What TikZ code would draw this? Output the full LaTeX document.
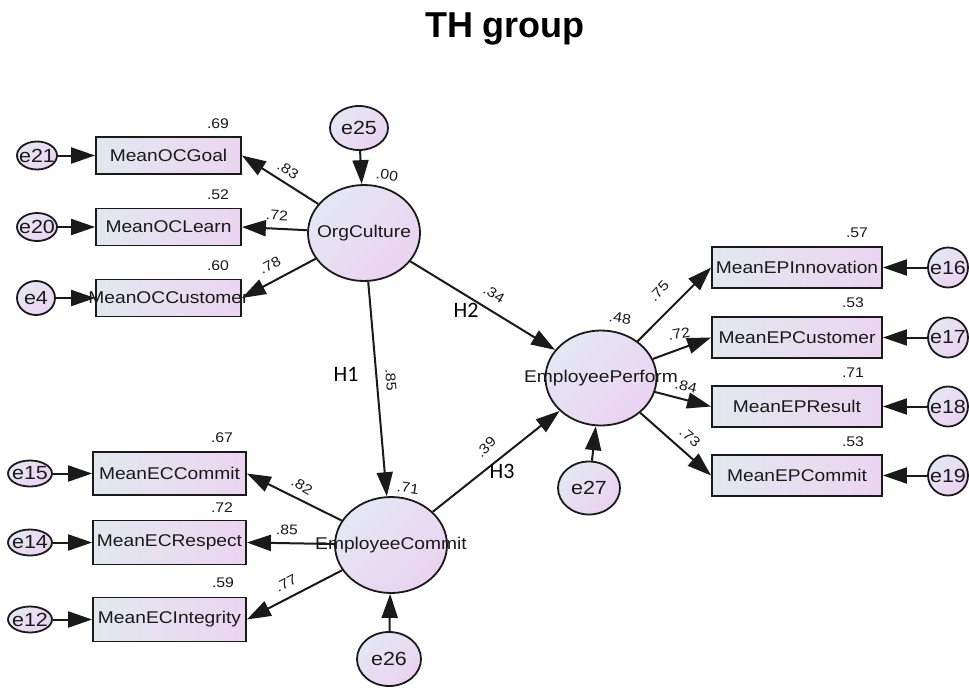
\documentclass[tikz,border=0pt]{standalone}
\usepackage{fontspec}
\setmainfont{Liberation Sans}
\newfontfamily\amosfont[FakeStretch=1.13]{Liberation Sans}
\newfontfamily\hypfont{Carlito}
\usetikzlibrary{arrows.meta,shapes.geometric}

\definecolor{boxL}{HTML}{E2E8EE}
\definecolor{boxR}{HTML}{EBD5F2}
\definecolor{ovalA}{HTML}{E4E7F3}
\definecolor{ovalB}{HTML}{EBD3F1}
\definecolor{ink}{HTML}{1A1A1A}

\tikzset{
  obs/.style={draw=ink, line width=1.8pt, rectangle, inner sep=0pt,
    left color=boxL, right color=boxR, text=ink,
    font=\amosfont\fontsize{17}{20}\selectfont},
  lat/.style={draw=ink, line width=1.8pt, ellipse, inner sep=0pt,
    top color=ovalA, bottom color=ovalB, shading angle=45, text=ink,
    font=\amosfont\fontsize{17}{20}\selectfont},
  err/.style={lat, font=\amosfont\fontsize{19}{22}\selectfont},
  reg/.style={draw=ink, line width=2pt, -{Triangle[length=24pt,width=16pt]}},
  est/.style={text=ink, inner sep=0pt, font=\amosfont\fontsize{14}{16}\selectfont},
  hyp/.style={text=black, inner sep=0pt, font=\hypfont\fontsize{22}{26}\selectfont},
}

\begin{document}
\begin{tikzpicture}[x=1pt,y=-1pt]
\useasboundingbox[fill=white] (0,0) rectangle (969,689);

% title
\node[anchor=base, inner sep=0pt, font=\bfseries\fontsize{36}{40}\selectfont] (title) at (505,37) {TH group};

% latent variables
\node[lat, minimum width=112pt, minimum height=96pt] (OC) at (364,233) {\makebox[0pt]{OrgCulture}};
\node[lat, minimum width=111pt, minimum height=95pt] (EP) at (601,378) {\makebox[0pt]{EmployeePerform}};
\node[lat, minimum width=112pt, minimum height=96pt] (EC) at (391,545) {\makebox[0pt]{EmployeeCommit}};

% disturbances of latent variables
\node[err, minimum width=58pt, minimum height=44pt] (e25) at (359,128) {e25};
\node[err, minimum width=62pt, minimum height=53pt] (e27) at (589,488) {e27};
\node[err, minimum width=64pt, minimum height=54pt] (e26) at (389,659) {e26};

% OrgCulture indicators
\node[obs, minimum width=145pt, minimum height=37pt] (ocGoal) at (168.5,155.5) {\makebox[0pt]{MeanOCGoal}};
\node[obs, minimum width=145pt, minimum height=37pt] (ocLearn) at (168.5,227) {\makebox[0pt]{MeanOCLearn}};
\node[obs, minimum width=145pt, minimum height=37pt] (ocCust) at (168.5,298) {\makebox[0pt]{MeanOCCustomer}};

% EmployeeCommit indicators
\node[obs, minimum width=153pt, minimum height=43pt] (ecCommit) at (169.5,473.5) {\makebox[0pt]{MeanECCommit}};
\node[obs, minimum width=153pt, minimum height=44pt] (ecRespect) at (169.5,542.5) {\makebox[0pt]{MeanECRespect}};
\node[obs, minimum width=153pt, minimum height=44pt] (ecInteg) at (169.5,619.5) {\makebox[0pt]{MeanECIntegrity}};

% EmployeePerform indicators
\node[obs, minimum width=170pt, minimum height=41pt] (epInnov) at (797,267.5) {\makebox[0pt]{MeanEPInnovation}};
\node[obs, minimum width=170pt, minimum height=41pt] (epCust) at (797,337.5) {\makebox[0pt]{MeanEPCustomer}};
\node[obs, minimum width=170pt, minimum height=41pt] (epResult) at (797,406.5) {\makebox[0pt]{MeanEPResult}};
\node[obs, minimum width=170pt, minimum height=41pt] (epCommit) at (797,475.5) {\makebox[0pt]{MeanEPCommit}};

% measurement errors
\node[err, minimum width=40pt, minimum height=28pt] (e21) at (37,155.5) {\makebox[0pt]{e21}};
\node[err, minimum width=40pt, minimum height=28pt] (e20) at (37,227) {\makebox[0pt]{e20}};
\node[err, minimum width=38pt, minimum height=34pt] (e4) at (36,298) {\makebox[0pt]{e4}};
\node[err, minimum width=44pt, minimum height=26pt] (e15) at (30,473.5) {\makebox[0pt]{e15}};
\node[err, minimum width=44pt, minimum height=26pt] (e14) at (30,542.5) {\makebox[0pt]{e14}};
\node[err, minimum width=44pt, minimum height=26pt] (e12) at (30,619.5) {\makebox[0pt]{e12}};
\node[err, minimum width=40pt, minimum height=40pt] (e16) at (948,267.5) {\makebox[0pt]{e16}};
\node[err, minimum width=40pt, minimum height=40pt] (e17) at (948,337.5) {\makebox[0pt]{e17}};
\node[err, minimum width=40pt, minimum height=40pt] (e18) at (948,406.5) {\makebox[0pt]{e18}};
\node[err, minimum width=40pt, minimum height=40pt] (e19) at (948,475.5) {\makebox[0pt]{e19}};

% structural paths
\draw[reg] (OC) -- (EC);
\draw[reg] (OC) -- (EP);
\draw[reg] (EC) -- (EP);
\draw[reg] (e25) -- (OC);
\draw[reg] (e27) -- (EP);
\draw[reg] (e26) -- (EC);

% loadings
\draw[reg] (OC) -- (ocGoal.east);
\draw[reg] (OC) -- (ocLearn.east);
\draw[reg] (OC) -- (ocCust.east);
\draw[reg] (EC) -- (ecCommit.east);
\draw[reg] (EC) -- (ecRespect.east);
\draw[reg] (EC) -- (ecInteg.east);
\draw[reg] (EP) -- (epInnov.west);
\draw[reg] (EP) -- (epCust.west);
\draw[reg] (EP) -- (epResult.west);
\draw[reg] (EP) -- (epCommit.west);

% error terms
\draw[reg] (e21) -- (ocGoal);
\draw[reg] (e20) -- (ocLearn);
\draw[reg] (e4) -- (ocCust);
\draw[reg] (e15) -- (ecCommit);
\draw[reg] (e14) -- (ecRespect);
\draw[reg] (e12) -- (ecInteg);
\draw[reg] (e16) -- (epInnov);
\draw[reg] (e17) -- (epCust);
\draw[reg] (e18) -- (epResult);
\draw[reg] (e19) -- (epCommit);

% squared multiple correlations
\node[est] (r69) at (218,124) {.69};
\node[est] (r52) at (218,195) {.52};
\node[est] (r60) at (218,266) {.60};
\node[est] (r67) at (222,438) {.67};
\node[est] (r72) at (222,508) {.72};
\node[est] (r59) at (223,583) {.59};
\node[est] (r57) at (857,233) {.57};
\node[est] (r53a) at (853,303) {.53};
\node[est] (r71a) at (853,373) {.71};
\node[est] (r53b) at (853,442) {.53};
\node[est, rotate=-8] (r00) at (387,175) {.00};
\node[est, rotate=-8] (r48) at (620,318) {.48};
\node[est, rotate=-8] (r71b) at (408,488) {.71};

% standardized weights
\node[est, rotate=-32] (w83) at (288,170) {.83};
\node[est, rotate=-4] (w72a) at (277,215) {.72};
\node[est, rotate=27] (w78) at (270,265) {.78};
\node[est, rotate=-30] (w82) at (302,486) {.82};
\node[est, rotate=-3] (w85a) at (287,530) {.85};
\node[est, rotate=27] (w77) at (286,583) {.77};
\node[est, rotate=-86] (w85b) at (391,380) {.85};
\node[est, rotate=-31] (w34) at (494,294) {.34};
\node[est, rotate=45] (w39) at (486,447) {.39};
\node[est, rotate=46] (w75) at (659,291) {.75};
\node[est, rotate=10] (w72b) at (679,334) {.72};
\node[est, rotate=-13] (w84) at (686,386) {.84};
\node[est, rotate=-40] (w73) at (690,437) {.73};

% hypotheses
\node[hyp] (H1) at (346,374) {H1};
\node[hyp] (H2) at (466,310) {H2};
\node[hyp] (H3) at (502,471) {H3};
\end{tikzpicture}
\end{document}
